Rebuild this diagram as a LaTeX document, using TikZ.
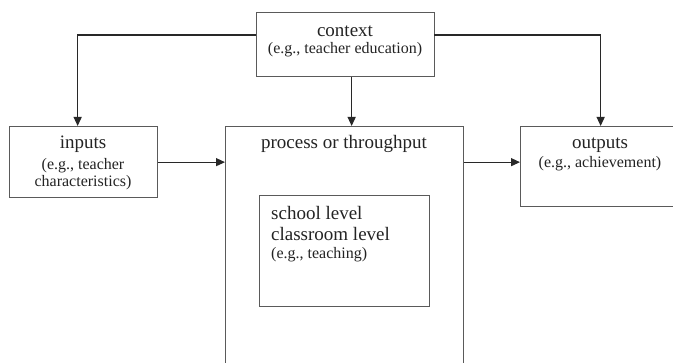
\documentclass[tikz,border=0pt]{standalone}
\usepackage{fontspec}
\setmainfont{Liberation Serif}
\usetikzlibrary{arrows.meta}
\definecolor{boxgray}{RGB}{90,90,90}
\definecolor{linegray}{RGB}{40,40,40}
\definecolor{txtgray}{RGB}{35,35,35}

\begin{document}
\begin{tikzpicture}[x=1pt,y=-1pt,
  box/.style={draw=boxgray, line width=1.3pt, inner sep=0pt, anchor=north west},
  big/.style={text=txtgray, font=\fontsize{19}{21}\selectfont, inner sep=0pt},
  small/.style={text=txtgray, font=\fontsize{16}{18}\selectfont, inner sep=0pt},
  arr/.style={draw=linegray, line width=1.2pt, -{Triangle[length=9pt,width=8pt]}}]
\useasboundingbox (0,0) rectangle (673,363);
\node[box, minimum width=178, minimum height=64] (context) at (256,12) {};
\node[box, minimum width=148, minimum height=71] (inputs) at (9,126) {};
\node[box, minimum width=238, minimum height=250] (process) at (225,126) {};
\node[box, minimum width=170, minimum height=111] (level) at (259,195) {};
\node[box, minimum width=160, minimum height=80] (outputs) at (520,126) {};
\node[big, anchor=base] (ctxa) at (345,37) {context};
\node[small, anchor=base] (ctxb) at (345,54) {(e.g., teacher education)};
\node[big, anchor=base] (ina) at (83,149) {inputs};
\node[small, anchor=base] (inb) at (83,170) {(e.g., teacher};
\node[small, anchor=base] (inc) at (83,187) {characteristics)};
\node[big, anchor=base] (proca) at (344,149) {process or throughput};
\node[big, anchor=base west] (lvla) at (271,220) {school level};
\node[big, anchor=base west] (lvlb) at (271,241) {classroom level};
\node[small, anchor=base west] (lvlc) at (271,259) {(e.g., teaching)};
\node[big, anchor=base] (outa) at (600,149) {outputs};
\node[small, anchor=base] (outb) at (600,168) {(e.g., achievement)};
\coordinate (ctxl) at (256,35);
\coordinate (ctxr) at (434,35);
\draw[arr] (ctxl) -| ([xshift=-6pt]inputs.north);
\draw[arr] (ctxr) -| (outputs.north);
\draw[arr] ([xshift=6pt]context.south) -- ([xshift=6pt]context.south |- process.north);
\draw[arr] (inputs.east) -- (inputs.east -| process.west);
\draw[arr] (inputs.east -| process.east) -- (inputs.east -| outputs.west);
\end{tikzpicture}
\end{document}
